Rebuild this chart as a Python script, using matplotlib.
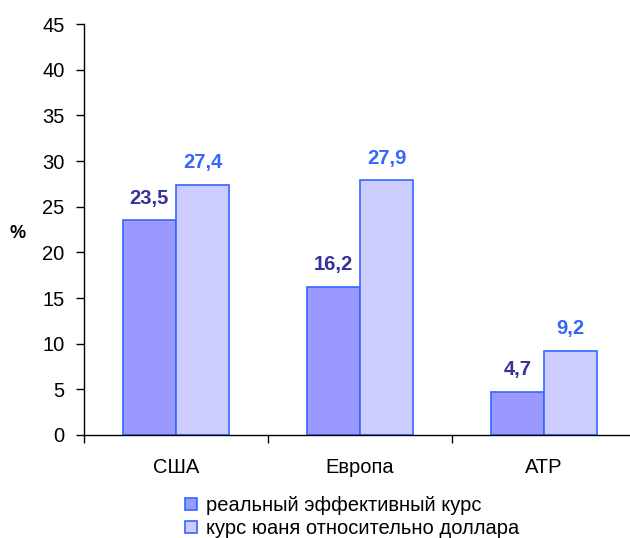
import matplotlib
matplotlib.use("Agg")
import matplotlib.pyplot as plt
import numpy as np

plt.rcParams['font.family'] = ['Liberation Sans', 'DejaVu Sans']

categories = ["США", "Европа", "АТР"]
real_eff = [23.5, 16.2, 4.7]
yuan_usd = [27.4, 27.9, 9.2]
series_names = ["реальный эффективный курс", "курс юаня относительно доллара"]
labels_real = ["23,5", "16,2", "4,7"]
labels_yuan = ["27,4", "27,9", "9,2"]

fig = plt.figure(figsize=(6.3, 5.38), dpi=100)
ax = fig.add_axes([84/630, 0.1915, 552/630, 0.7635])

x = np.arange(len(categories))
w = 0.29
b1 = ax.bar(x - w/2, real_eff, w, color="#9999FF", edgecolor="#3366FF", linewidth=1.2, label=series_names[0])
b2 = ax.bar(x + w/2, yuan_usd, w, color="#CCCCFF", edgecolor="#3366FF", linewidth=1.2, label=series_names[1])

for xi, v, t in zip(x, real_eff, labels_real):
    ax.text(xi - w/2, v + 1.4, t, ha="center", va="bottom", fontsize=14.5, fontweight="bold", color="#333399")
for xi, v, t in zip(x, yuan_usd, labels_yuan):
    ax.text(xi + w/2, v + 1.4, t, ha="center", va="bottom", fontsize=14.5, fontweight="bold", color="#3366FF")

ax.set_xlim(-0.5, 2.5)
ax.set_ylim(0, 45)
ax.set_yticks(np.arange(0, 46, 5))
ax.tick_params(axis='y', labelsize=14.5, length=6, width=1, direction='out', pad=8)
ax.set_xticks([-0.5, 0.5, 1.5, 2.5])
ax.set_xticklabels([])
ax.tick_params(axis='x', length=6, width=1, direction='out')
for xi, c in zip(x, categories):
    ax.text(xi, -3.6, c, ha="center", va="center", fontsize=14.5, transform=ax.transData)

for s in ["top", "right"]:
    ax.spines[s].set_visible(False)
ax.spines["left"].set_linewidth(1)
ax.spines["bottom"].set_linewidth(1)

fig.text(18/630, 1 - 233/538, "%", fontsize=13, fontweight="bold", ha="center", va="center")

leg = fig.legend(handles=[b1, b2], labels=series_names, loc="upper left",
                 bbox_to_anchor=(185/630, 1 - 496/538), frameon=False, fontsize=14.5,
                 handlelength=0.6, handleheight=0.6, handletextpad=0.45, labelspacing=0.2,
                 borderpad=0, borderaxespad=0)

fig.savefig("out.png", dpi=100)
